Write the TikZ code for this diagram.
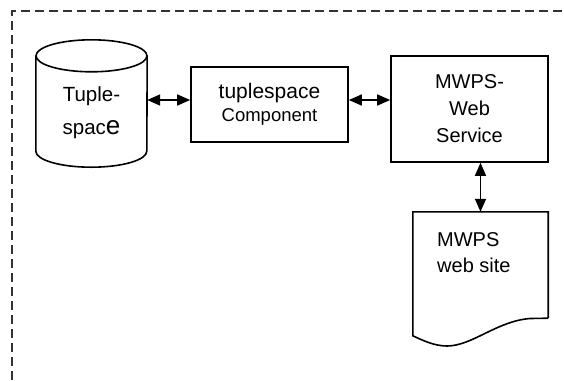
\documentclass[tikz,border=0pt]{standalone}
\usepackage{fontspec}
\setmainfont{Liberation Sans}
\usetikzlibrary{arrows.meta}
\tikzset{
  box/.style={draw,line width=1.6bp,inner sep=0pt,align=center},
  link/.style={{Triangle[length=13bp,width=11bp]}-{Triangle[length=13bp,width=11bp]},line width=1.5bp},
  frame/.style={dash pattern=on 9bp off 5bp,line width=1.2bp,black!80}
}
\begin{document}
\begin{tikzpicture}[x=1bp,y=-1bp]
  \useasboundingbox (0,0) rectangle (564,380);
  \draw[frame] (12,380) -- (12,11) -- (564,11);
  % tuple store drawn as a cylinder
  \node[inner sep=0pt,minimum width=111bp,minimum height=95bp] (store) at (91.5,103.5) {};
  \draw[line width=1.6bp] (store.north west) -- (store.south west) arc (180:360:55.5bp and 16bp) -- (store.north east);
  \draw[line width=1.6bp] (store.north) ellipse [x radius=55.5bp,y radius=16bp];
  \node[align=center,inner sep=0pt,font=\fontsize{20.5bp}{32.6bp}\selectfont] (storetext) at ([yshift=-9bp]store.center)
    {Tuple-\\spac{\fontsize{26bp}{32.6bp}\selectfont e}};
  \node[box,minimum width=157bp,minimum height=75bp,font=\fontsize{21bp}{23.3bp}\selectfont] (comp) at (269.5,104.5)
    {tuplespace\\{\fontsize{18.5bp}{23.3bp}\selectfont Component}};
  \node[box,minimum width=157bp,minimum height=106bp,font=\fontsize{20bp}{27bp}\selectfont] (svc) at (469.5,109)
    {MWPS-\\Web\\Service};
  \node[inner sep=0pt,minimum width=135bp,minimum height=106bp] (doc) at (480.5,265) {};
  \draw[line width=1.6bp] (doc.south east) -- (doc.north east) -- (doc.north west) -- ++(0,124)
    .. controls (422,340) and (434,346) .. (447,346)
    .. controls (472,346) and (497,321) .. (530,318.5) -- (doc.south east);
  \node[anchor=north west,inner sep=0pt,align=left,font=\fontsize{20bp}{26bp}\selectfont] (site) at (437,232)
    {MWPS\\web site};
  % links
  \coordinate (row) at (0,100);
  \draw[link] (store.east |- row) -- (comp.west |- row);
  \draw[link] (comp.east |- row) -- (svc.west |- row);
  \draw[link] (svc.south -| doc.north) -- (doc.north);
\end{tikzpicture}
\end{document}
